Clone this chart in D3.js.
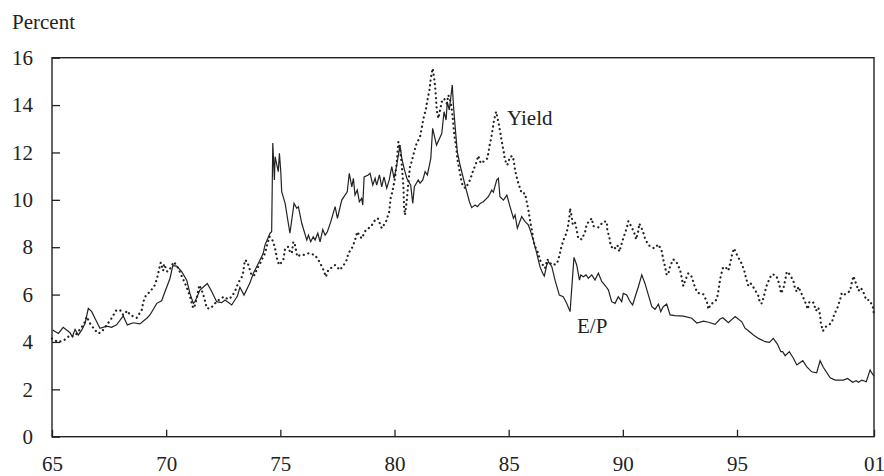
<!DOCTYPE html>
<html>
<head>
<meta charset="utf-8">
<script src="https://cdn.jsdelivr.net/npm/d3@7"></script>
<style>
  body { margin: 0; background: #fff; }
  text { font-family: "Liberation Serif", "Times New Roman", serif; fill: #222; }
</style>
</head>
<body>
<script>
// E/P ratio (solid line)
var epYears = [1965.03,1965.28,1965.49,1965.79,1965.89,1966.01,1966.15,1966.30,1966.45,1966.59,1966.74,1966.88,
  1967.10,1967.40,1967.61,1967.83,1968.12,1968.30,1968.56,1968.85,1969.15,1969.29,1969.59,1969.80,
  1970.17,1970.29,1970.46,1970.68,1970.90,1971.04,1971.19,1971.26,1971.48,1971.80,1972.00,1972.21,
  1972.43,1972.58,1972.87,1973.12,1973.23,1973.41,1973.67,1973.82,1974.11,1974.25,1974.33,1974.55,
  1974.62,1974.67,1974.74,1974.77,1974.91,1974.96,1975.02,1975.06,1975.21,1975.42,1975.60,1975.72,
  1975.79,1975.94,1976.16,1976.23,1976.33,1976.44,1976.52,1976.64,1976.74,1976.86,1976.96,1977.06,
  1977.21,1977.40,1977.50,1977.69,1977.93,1978.02,1978.13,1978.20,1978.27,1978.37,1978.46,1978.56,
  1978.61,1978.67,1978.85,1978.93,1979.05,1979.15,1979.22,1979.34,1979.44,1979.54,1979.66,1979.77,
  1979.88,1979.98,1980.10,1980.24,1980.32,1980.42,1980.54,1980.71,1980.80,1980.87,1981.04,1981.12,
  1981.24,1981.34,1981.44,1981.59,1981.67,1981.84,1982.07,1982.17,1982.26,1982.31,1982.40,1982.53,
  1982.58,1982.65,1982.75,1982.87,1983.09,1983.28,1983.38,1983.53,1983.63,1983.75,1983.89,1984.11,
  1984.26,1984.33,1984.48,1984.55,1984.62,1984.77,1984.92,1985.06,1985.21,1985.28,1985.38,1985.57,
  1985.72,1985.86,1985.94,1986.08,1986.23,1986.37,1986.49,1986.56,1986.67,1986.74,1986.89,1987.03,
  1987.22,1987.39,1987.54,1987.69,1987.86,1987.98,1988.10,1988.16,1988.27,1988.39,1988.49,1988.64,
  1988.78,1988.93,1989.08,1989.15,1989.27,1989.37,1989.51,1989.66,1989.80,1989.95,1990.02,1990.17,
  1990.32,1990.43,1990.54,1990.68,1990.83,1990.97,1991.12,1991.27,1991.41,1991.56,1991.66,1991.77,
  1991.92,1992.07,1992.29,1992.65,1993.02,1993.24,1993.53,1993.75,1994.04,1994.26,1994.38,1994.62,
  1994.92,1995.21,1995.35,1995.50,1995.72,1995.94,1996.23,1996.42,1996.59,1996.77,1996.92,1997.00,
  1997.11,1997.29,1997.47,1997.62,1997.88,1998.06,1998.27,1998.49,1998.64,1998.78,1999.08,1999.30,
  1999.66,1999.84,2000.07,2000.22,2000.32,2000.47,2000.66,2000.83,2000.91,2001.00];
var epValues = [4.50,4.36,4.62,4.39,4.22,4.53,4.29,4.50,4.79,5.42,5.28,5.00,
  4.58,4.67,4.62,4.72,5.10,4.72,4.81,4.76,5.00,5.14,5.63,5.74,
  6.69,7.22,7.20,6.97,6.61,6.05,5.63,5.70,6.19,6.47,6.12,5.70,
  5.66,5.77,5.56,5.94,6.31,5.98,6.50,6.90,7.46,7.74,8.10,8.59,
  8.65,12.40,10.84,11.82,11.19,11.96,11.19,10.34,9.85,8.59,9.85,9.64,
  9.71,9.00,8.30,8.51,8.23,8.44,8.30,8.59,8.23,8.75,8.51,8.65,
  9.08,9.71,9.22,9.99,10.34,11.12,10.55,10.91,10.20,10.41,9.92,10.06,
  9.78,10.97,11.05,11.12,10.62,10.91,10.62,11.05,10.55,10.97,10.49,10.84,
  11.40,10.91,11.47,12.31,11.75,11.33,10.91,10.62,9.85,10.55,10.84,10.70,
  10.84,11.19,11.05,11.75,13.02,12.31,12.80,13.72,13.37,14.14,13.79,14.85,
  14.00,13.16,12.03,11.47,10.62,9.92,9.67,9.78,9.71,9.85,9.92,10.13,
  10.41,10.32,10.84,10.91,10.13,9.99,10.20,9.71,9.22,9.36,8.80,9.29,
  9.08,8.94,8.73,8.30,7.74,7.18,6.90,6.78,7.25,7.39,7.18,6.61,
  5.98,5.91,5.63,5.28,7.57,7.25,6.61,6.83,6.75,6.83,6.69,6.83,
  6.61,6.90,6.54,6.47,6.33,6.19,5.70,5.63,5.91,5.70,6.05,5.98,
  5.70,5.56,5.91,6.33,6.83,6.47,5.98,5.49,5.38,5.60,5.28,5.49,
  5.60,5.14,5.11,5.09,5.00,4.80,4.88,4.83,4.74,4.97,5.02,4.81,
  5.07,4.85,4.58,4.47,4.29,4.15,4.01,3.98,4.15,3.91,3.59,3.59,
  3.42,3.59,3.31,3.03,3.21,2.95,2.74,2.70,3.21,2.93,2.49,2.39,
  2.39,2.46,2.30,2.36,2.30,2.39,2.32,2.82,2.68,2.56];

// Bond yield (dotted line)
var yieldYears = [1965.00,1965.25,1965.50,1965.75,1966.00,1966.20,1966.40,1966.52,1966.66,1966.88,1967.03,1967.18,
  1967.40,1967.61,1967.80,1967.98,1968.12,1968.30,1968.42,1968.71,1968.93,1969.00,1969.12,1969.29,
  1969.51,1969.61,1969.70,1969.76,1969.87,1969.91,1970.05,1970.14,1970.34,1970.53,1970.68,1970.83,
  1970.97,1971.08,1971.16,1971.22,1971.34,1971.45,1971.60,1971.70,1971.78,1971.95,1972.14,1972.33,
  1972.53,1972.72,1972.87,1973.02,1973.16,1973.35,1973.45,1973.55,1973.67,1973.75,1973.89,1973.97,
  1974.11,1974.25,1974.33,1974.40,1974.52,1974.67,1974.77,1974.88,1974.96,1975.13,1975.21,1975.35,
  1975.42,1975.50,1975.57,1975.64,1975.74,1975.86,1976.01,1976.23,1976.52,1976.71,1976.86,1977.00,
  1977.10,1977.40,1977.61,1977.88,1977.98,1978.17,1978.27,1978.37,1978.56,1978.75,1978.97,1979.15,
  1979.27,1979.44,1979.63,1979.77,1979.83,1979.92,1980.02,1980.10,1980.17,1980.24,1980.32,1980.39,
  1980.42,1980.46,1980.54,1980.61,1980.68,1980.75,1980.86,1980.97,1981.12,1981.19,1981.26,1981.38,
  1981.44,1981.53,1981.59,1981.67,1981.73,1981.78,1981.82,1981.85,1981.92,1982.07,1982.17,1982.29,
  1982.36,1982.46,1982.53,1982.58,1982.62,1982.70,1982.75,1982.83,1982.90,1982.95,1983.02,1983.12,
  1983.19,1983.31,1983.43,1983.57,1983.67,1983.78,1983.89,1984.07,1984.18,1984.26,1984.36,1984.45,
  1984.50,1984.59,1984.65,1984.70,1984.77,1984.84,1984.94,1985.06,1985.18,1985.24,1985.28,1985.35,
  1985.42,1985.50,1985.57,1985.72,1985.79,1985.86,1985.91,1985.97,1986.04,1986.08,1986.16,1986.30,
  1986.37,1986.45,1986.59,1986.69,1986.89,1987.11,1987.22,1987.29,1987.40,1987.54,1987.61,1987.66,
  1987.69,1987.76,1987.81,1987.91,1987.98,1988.05,1988.20,1988.35,1988.42,1988.53,1988.64,1988.71,
  1988.93,1989.15,1989.30,1989.32,1989.41,1989.47,1989.62,1989.76,1989.85,1989.95,1990.05,1990.17,
  1990.24,1990.39,1990.54,1990.58,1990.68,1990.72,1990.87,1990.97,1991.12,1991.37,1991.56,1991.70,
  1991.77,1991.85,1991.92,1991.99,1992.07,1992.21,1992.36,1992.51,1992.58,1992.65,1992.73,1992.87,
  1993.02,1993.13,1993.26,1993.38,1993.53,1993.68,1993.75,1993.85,1993.97,1994.11,1994.18,1994.23,
  1994.29,1994.38,1994.48,1994.62,1994.70,1994.77,1994.87,1995.02,1995.18,1995.31,1995.40,1995.50,
  1995.60,1995.75,1995.94,1996.01,1996.09,1996.19,1996.28,1996.41,1996.52,1996.67,1996.77,1996.86,
  1996.93,1997.03,1997.11,1997.18,1997.29,1997.47,1997.54,1997.62,1997.69,1997.84,1997.98,1998.10,
  1998.17,1998.35,1998.46,1998.56,1998.64,1998.67,1998.76,1998.89,1999.15,1999.25,1999.40,1999.51,
  1999.59,1999.73,1999.95,2000.02,2000.10,2000.21,2000.32,2000.42,2000.53,2000.66,2000.80,2000.95,
  2001.00];
var yieldValues = [4.15,4.00,4.05,4.25,4.25,4.50,4.75,5.07,4.79,4.50,4.36,4.43,
  4.72,5.00,5.32,5.35,5.14,5.32,5.14,5.02,5.35,5.70,5.98,6.12,
  6.40,6.73,7.11,7.35,7.01,7.29,6.97,7.04,7.38,7.11,6.78,6.47,
  6.12,5.80,5.49,5.42,5.84,6.40,6.08,5.74,5.42,5.42,5.63,5.80,
  5.91,5.80,5.91,6.15,6.50,6.80,7.46,7.39,7.04,6.80,6.83,7.08,
  7.30,7.60,7.74,8.02,8.45,8.27,7.95,7.40,7.25,7.46,7.95,8.02,
  7.81,7.74,8.23,8.10,7.60,7.67,7.67,7.74,7.67,7.39,7.11,6.75,
  7.04,7.25,7.04,7.39,7.74,8.02,8.30,8.65,8.37,8.73,8.87,9.15,
  9.22,8.80,9.08,9.50,10.06,10.41,10.91,11.61,12.45,12.17,11.47,10.55,
  9.71,9.36,9.99,10.76,11.40,11.61,12.03,12.38,12.66,13.02,13.40,13.86,
  14.21,14.63,15.13,15.55,15.20,14.77,14.28,13.79,13.44,14.14,14.28,14.07,
  14.42,14.14,13.65,13.16,12.74,12.24,11.75,11.33,10.97,10.70,10.55,10.49,
  10.62,10.84,11.19,11.54,11.86,11.54,11.61,11.75,12.38,12.74,13.37,13.72,
  13.51,13.09,12.74,12.45,12.10,11.68,11.47,11.82,11.85,11.54,11.26,10.97,
  10.70,10.49,10.27,10.27,9.92,9.60,9.29,8.94,8.61,8.27,8.02,7.74,
  7.46,7.32,7.11,7.49,7.25,7.29,7.63,7.95,8.30,8.61,8.94,9.29,
  9.64,9.29,8.94,9.03,8.73,8.37,8.33,8.65,9.00,9.08,9.22,8.89,
  8.84,9.08,9.08,8.73,8.42,8.05,7.91,8.09,7.81,8.16,8.47,8.80,
  9.10,8.84,8.51,8.33,8.70,9.00,8.70,8.37,8.09,7.95,8.12,7.84,
  7.49,7.18,6.83,6.87,7.20,7.49,7.35,7.04,6.69,6.36,6.59,6.90,
  6.75,6.40,6.08,6.05,6.01,5.70,5.38,5.60,5.66,5.80,6.12,6.47,
  6.78,7.11,7.18,7.01,7.32,7.63,7.95,7.63,7.35,7.04,6.69,6.36,
  6.47,6.26,5.94,5.63,5.63,5.98,6.33,6.64,6.85,6.83,6.69,6.40,
  6.05,6.26,6.61,6.97,6.87,6.59,6.26,6.12,6.33,6.01,5.70,5.38,
  5.70,5.66,5.32,5.46,5.14,4.81,4.46,4.64,4.81,5.14,5.45,5.77,
  6.08,6.01,6.15,6.47,6.78,6.47,6.16,6.29,6.12,5.77,5.77,5.49,
  5.14];

var yTicks = [0, 2, 4, 6, 8, 10, 12, 14, 16];
var xTicks = [1965, 1970, 1975, 1980, 1985, 1990, 1995, 2001];
var xTickLabels = ["65", "70", "75", "80", "85", "90", "95", "01"];

var width = 884, height = 476;
var margin = {top: 57.7, right: 10, bottom: 39.3, left: 52};

var svg = d3.select("body").append("svg")
    .attr("width", width)
    .attr("height", height);

var x = d3.scaleLinear()
    .domain([1965, 2001])
    .range([margin.left, width - margin.right]);

var y = d3.scaleLinear()
    .domain([0, 16])
    .range([height - margin.bottom, margin.top]);

var ink = "#222";
var fontSize = 21;

// axes
var xAxis = d3.axisBottom(x)
    .tickValues(xTicks)
    .tickSize(-7)
    .tickPadding(19)
    .tickFormat(function(d, i) { return xTickLabels[i]; });

var yAxis = d3.axisLeft(y)
    .tickValues(yTicks)
    .tickSize(-8)
    .tickPadding(19)
    .tickFormat(d3.format("d"));

var gx = svg.append("g")
    .attr("transform", "translate(0," + y(0) + ")")
    .call(xAxis);
var gy = svg.append("g")
    .attr("transform", "translate(" + margin.left + ",0)")
    .call(yAxis);

[gx, gy].forEach(function(g) {
    g.select(".domain").remove();
    g.selectAll("line").attr("stroke", ink).attr("stroke-width", 1.3);
    g.selectAll("text")
        .attr("font-family", "Liberation Serif, Times New Roman, serif")
        .attr("font-size", fontSize)
        .attr("fill", ink);
});

// frame
svg.append("rect")
    .attr("x", x(1965))
    .attr("y", y(16))
    .attr("width", x(2001) - x(1965))
    .attr("height", y(0) - y(16))
    .attr("fill", "none")
    .attr("stroke", ink)
    .attr("stroke-width", 1.4);

var epLine = d3.line()
    .x(function(d, i) { return x(epYears[i]); })
    .y(function(d) { return y(d); });

var yieldLine = d3.line()
    .x(function(d, i) { return x(yieldYears[i]); })
    .y(function(d) { return y(d); });

svg.append("path")
    .datum(yieldValues)
    .attr("d", yieldLine)
    .attr("fill", "none")
    .attr("stroke", ink)
    .attr("stroke-width", 2.2)
    .attr("stroke-linecap", "round")
    .attr("stroke-dasharray", "0.1,4.6");

svg.append("path")
    .datum(epValues)
    .attr("d", epLine)
    .attr("fill", "none")
    .attr("stroke", ink)
    .attr("stroke-width", 1.2)
    .attr("stroke-linejoin", "miter");

// labels
svg.append("text")
    .attr("x", 12)
    .attr("y", 29)
    .attr("font-size", fontSize)
    .text("Percent");

svg.append("text")
    .attr("x", 507)
    .attr("y", 125)
    .attr("font-size", fontSize)
    .text("Yield");

svg.append("text")
    .attr("x", 577)
    .attr("y", 333)
    .attr("font-size", fontSize)
    .text("E/P");
</script>
</body>
</html>
